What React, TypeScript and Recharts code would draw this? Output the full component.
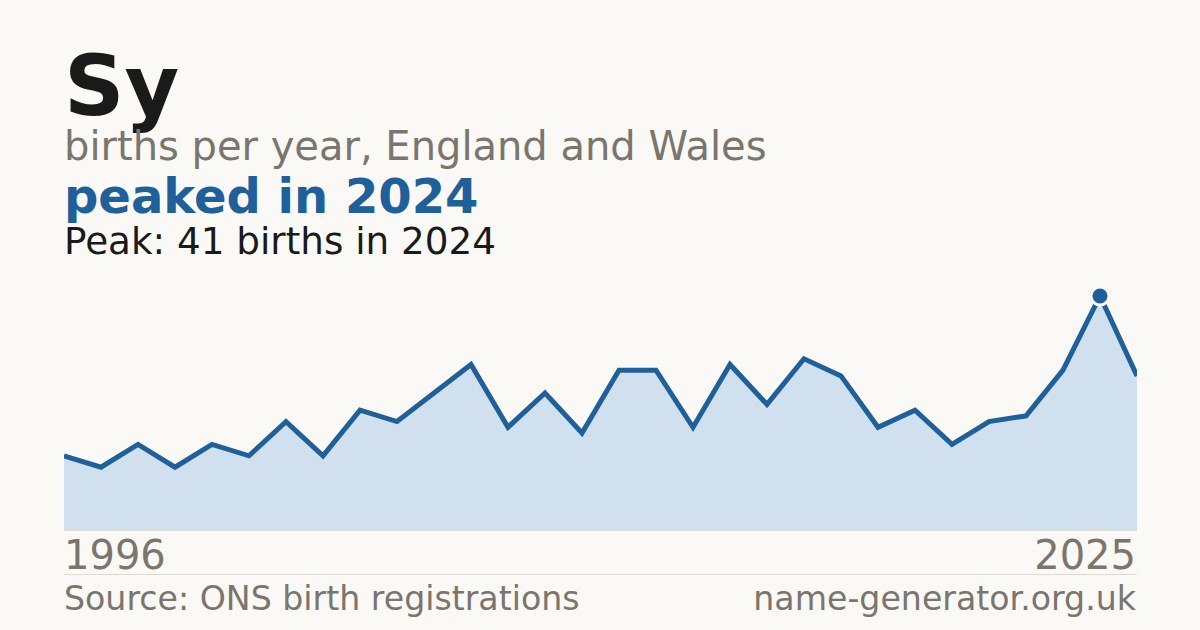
import React from "react";
import { Area, AreaChart, XAxis, YAxis, ReferenceDot } from "recharts";

const years = [
  1996, 1997, 1998, 1999, 2000, 2001, 2002, 2003, 2004, 2005,
  2006, 2007, 2008, 2009, 2010, 2011, 2012, 2013, 2014, 2015,
  2016, 2017, 2018, 2019, 2020, 2021, 2022, 2023, 2024, 2025,
];
const births = [
  13, 11, 15, 11, 15, 13, 19, 13, 21, 19,
  24, 29, 18, 24, 17, 28, 28, 18, 29, 22,
  30, 27, 18, 21, 15, 19, 20, 28, 41, 27,
];
const peakYear = 2024;
const peakValue = 41;

const BG = "#faf9f5";
const BLUE = "#20609a";
const FILL = "#d0e0ef";
const GREY = "#7a756d";
const DARK = "#1a1a1a";
const FONT = "'DejaVu Sans', sans-serif";

const chartData = years.map((y, i) => ({ year: y, births: births[i] }));

export default function App() {
  return (
    <div
      style={{
        position: "absolute",
        left: 0,
        top: 0,
        width: 1200,
        height: 630,
        background: BG,
        overflow: "hidden",
        fontFamily: FONT,
      }}
    >
      <svg width={1200} height={630} style={{ position: "absolute", left: 0, top: 0 }}>
        <text x={64} y={115} fontSize={84} fontWeight="bold" fill={DARK} fontFamily={FONT}>
          Sy
        </text>
        <text x={64} y={160} fontSize={40} fill={GREY} fontFamily={FONT}>
          births per year, England and Wales
        </text>
        <text x={64} y={213} fontSize={48} fontWeight="bold" fill={BLUE} fontFamily={FONT}>
          peaked in 2024
        </text>
        <text x={64} y={254} fontSize={37.3} fill={DARK} fontFamily={FONT}>
          {`Peak: ${peakValue} births in ${peakYear}`}
        </text>
        <line x1={64} x2={1137} y1={530.5} y2={530.5} stroke="#dedbd4" strokeWidth={1} />
        <text x={64} y={569} fontSize={40} fill={GREY} fontFamily={FONT}>
          {years[0]}
        </text>
        <text x={1136} y={569} fontSize={40} fill={GREY} textAnchor="end" fontFamily={FONT}>
          {years[years.length - 1]}
        </text>
        <line x1={64} x2={1137} y1={574.5} y2={574.5} stroke="#dedbd4" strokeWidth={1} />
        <text x={64} y={610} fontSize={33.2} fill={GREY} fontFamily={FONT}>
          Source: ONS birth registrations
        </text>
        <text x={1136} y={610} fontSize={33.2} fill={GREY} textAnchor="end" fontFamily={FONT}>
          name-generator.org.uk
        </text>
      </svg>
      <div style={{ position: "absolute", left: 64, top: 280 }}>
        <AreaChart
          width={1073}
          height={250}
          data={chartData}
          margin={{ top: 16, right: 0, bottom: 0, left: 0 }}
          style={{ overflow: "visible" }}
        >
          <XAxis dataKey="year" hide padding={{ left: 0, right: 0 }} />
          <YAxis hide domain={[0, peakValue]} />
          <Area
            type="linear"
            dataKey="births"
            stroke={BLUE}
            strokeWidth={5}
            strokeLinejoin="miter"
            fill={FILL}
            fillOpacity={1}
            isAnimationActive={false}
            dot={false}
            activeDot={false}
          />
          <ReferenceDot
            x={peakYear}
            y={peakValue}
            r={9}
            fill={BLUE}
            stroke={BG}
            strokeWidth={3}
            shape={(p: any) => (
              <circle cx={p.cx} cy={p.cy} r={9} fill={BLUE} stroke={BG} strokeWidth={3} />
            )}
          />
        </AreaChart>
      </div>
    </div>
  );
}
